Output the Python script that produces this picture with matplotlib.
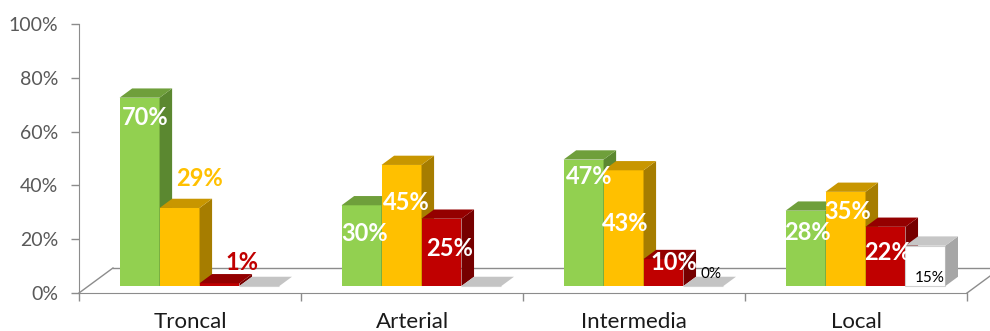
import numpy as np
import matplotlib.pyplot as plt
from matplotlib.patches import Polygon

# values (percent)
categories = ['Troncal', 'Arterial', 'Intermedia', 'Local']
green_vals = [70, 30, 47, 28]
orange_vals = [29, 45, 43, 35]
red_vals = [1, 25, 10, 22]
grey_vals = [0, 0, 0, 15]
grey_labelled = [False, False, True, True]
yticks = [0, 20, 40, 60, 80, 100]
ytick_labels = ['0%', '20%', '40%', '60%', '80%', '100%']

# colours per series: front, top, side
face_cols = [('#92D050', '#6F9F3B', '#5B8830'),
             ('#FFC000', '#C89600', '#A67D00'),
             ('#C00000', '#940000', '#760000'),
             ('#FFFFFF', '#C6C6C6', '#A6A6A6')]

# label nudges in pixels (dx, dy from the top front edge of each bar)
label_dx = [[6, 20, 22, 0], [3, 5, 8, 0], [6, 2, 10, 8], [2, 2, 2, 4]]
label_dy = [[-20, 29, 21, 0], [-28, -38, -30, 0], [-17, -53, -3, 12], [-22, -20, -26, -32]]

plt.rcParams['font.family'] = ['Lato', 'DejaVu Sans']

fig = plt.figure(figsize=(9.9, 3.31), dpi=100)
ax = fig.add_axes([79 / 990, 38 / 331, 888 / 990, 269 / 331])
ax.set_xlim(-0.5, 3.5)
ax.set_ylim(0, 100)

# pseudo 3d geometry (data units)
floor_dx, floor_dy = 0.153, 9.3
z0 = 0.28
depth = 0.37
bw = 0.18
base = z0 * floor_dy
shift = z0 * floor_dx
ddx, ddy = depth * floor_dx, depth * floor_dy

# floor
x_l, x_r = -0.5, 3.5
ax.add_patch(Polygon([(x_l, 0), (x_r, 0), (x_r + floor_dx, floor_dy), (x_l + floor_dx, floor_dy)],
                     closed=True, facecolor='white', edgecolor='none', zorder=1, clip_on=False))
line_col = '#8C8C8C'
ax.plot([x_l, x_l + floor_dx], [0, floor_dy], color=line_col, lw=1, zorder=2, clip_on=False)
ax.plot([x_l + floor_dx, x_r + floor_dx], [floor_dy, floor_dy], color=line_col, lw=1, zorder=2, clip_on=False)
ax.plot([x_r, x_r + floor_dx], [0, floor_dy], color=line_col, lw=1, zorder=2, clip_on=False)

series = [green_vals, orange_vals, red_vals, grey_vals]
x = np.arange(len(categories))

for i, vals in enumerate(series):
    front, top, side = face_cols[i]
    z = 3 + i
    x0 = x - 2 * bw + i * bw + shift
    heights = np.array(vals, dtype=float)
    ec = '#D0D0D0' if i == 3 else 'none'
    bars = ax.bar(x0, heights, width=bw, bottom=base, align='edge', color=front,
                  edgecolor=ec, linewidth=0.8, zorder=z)
    for j, rect in enumerate(bars):
        v = heights[j]
        left = rect.get_x()
        yt = base + v
        if v > 0:
            ax.add_patch(Polygon([(left + bw, base), (left + bw, yt), (left + bw + ddx, yt + ddy),
                                  (left + bw + ddx, base + ddy)], closed=True,
                                 facecolor=side, edgecolor='none', zorder=z))
        ax.add_patch(Polygon([(left, yt), (left + bw, yt), (left + bw + ddx, yt + ddy), (left + ddx, yt + ddy)],
                             closed=True, facecolor=top if v > 0 else '#C4C4C4', edgecolor='none', zorder=z))

        # data label
        if i == 3 and not grey_labelled[j]:
            continue
        if i == 3:
            col, fw, fs = '#000000', 'normal', 11
        elif j == 0 and i == 1:
            col, fw, fs = '#FFC000', 'bold', 17
        elif j == 0 and i == 2:
            col, fw, fs = '#C00000', 'bold', 17
        else:
            col, fw, fs = 'white', 'bold', 17
        ax.annotate(f'{int(v)}%', (left + bw / 2, yt), xytext=(label_dx[j][i], label_dy[j][i]),
                    textcoords='offset pixels', ha='center', va='center', color=col,
                    fontsize=fs, fontweight=fw, zorder=20)

# axes styling
for s in ['top', 'right']:
    ax.spines[s].set_visible(False)
ax.spines['left'].set_color(line_col)
ax.spines['bottom'].set_color(line_col)
ax.set_yticks(yticks)
ax.set_yticklabels(ytick_labels)
ax.tick_params(axis='y', length=6, width=1, color=line_col, pad=9, labelsize=14, labelcolor='#595959')
ax.set_xticks(x)
ax.set_xticklabels(categories)
ax.set_xticks(np.arange(-0.5, 4, 1), minor=True)
ax.tick_params(axis='x', which='major', length=0, pad=14, labelsize=16, labelcolor='#1A1A1A')
ax.tick_params(axis='x', which='minor', length=6, width=1, color=line_col)

plt.savefig('out.png', dpi=100)
